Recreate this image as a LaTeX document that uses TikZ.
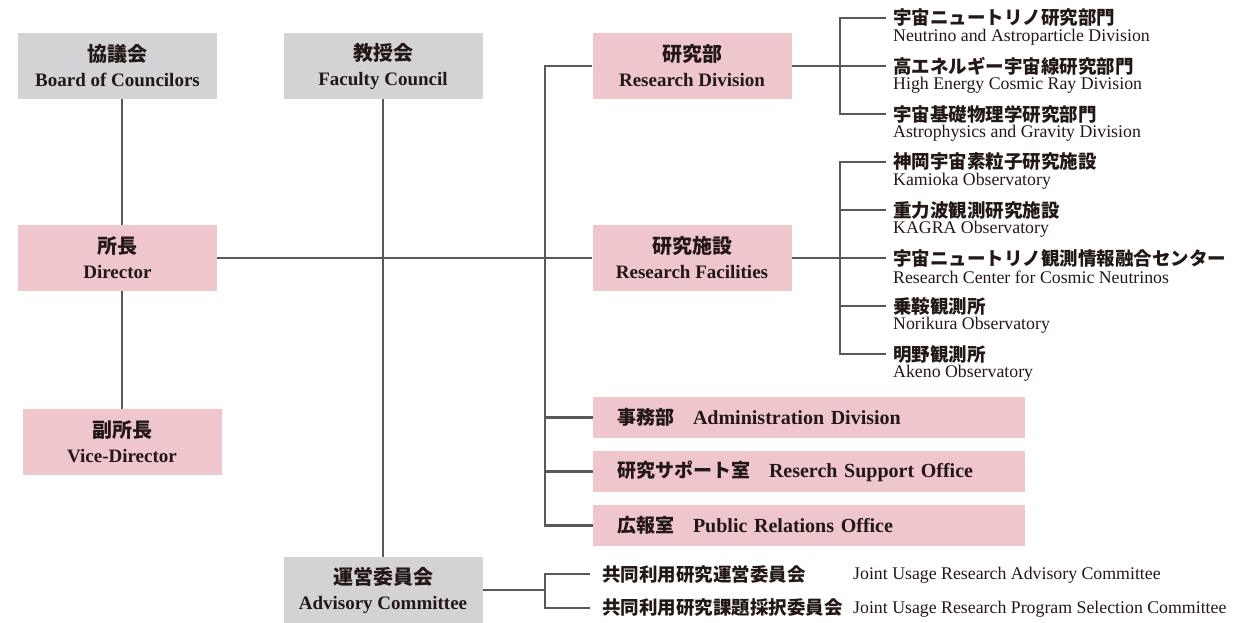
\documentclass[tikz,border=0pt]{standalone}
\usepackage{fontspec}
\setmainfont{Liberation Serif}
\newfontfamily\jp{Noto Sans CJK JP}
\newcommand{\jpbox}{\jp\fontsize{20}{25}\selectfont}
\newcommand{\jpwide}{\jp\fontsize{19}{24}\selectfont}
\usepackage{xcolor}
\usepackage{tikz}
\usetikzlibrary{positioning}
\definecolor{BoxGray}{HTML}{D3D3D5}
\definecolor{BoxPink}{HTML}{EEC6CB}
\definecolor{LineGray}{HTML}{5A5858}
\definecolor{Ink}{HTML}{231815}

\begin{document}
\begin{tikzpicture}[
    x=1pt, y=-1pt,
    text=Ink,
    box/.style={inner sep=0pt, align=center, minimum width=199pt, minimum height=66pt,
      font=\fontsize{19}{25}\selectfont\bfseries},
    gbox/.style={box, fill=BoxGray},
    pbox/.style={box, fill=BoxPink},
    wbox/.style={fill=BoxPink, inner xsep=24pt, inner ysep=0pt, text width=384pt, align=left,
      minimum height=41pt, font=\fontsize{20}{24}\selectfont\bfseries},
    jpsub/.style={anchor=west, inner xsep=7pt, inner ysep=0pt, font=\jp\fontsize{18.5}{22}\selectfont\bfseries},
    ensub/.style={anchor=west, inner xsep=7pt, inner ysep=0pt, font=\fontsize{17.8}{20}\selectfont},
    link/.style={line width=2.8pt, LineGray}
  ]
    \useasboundingbox (0,0) rectangle (1257,622);

    % boxes
    \node[gbox] (board) at (117.5,66) {{\jpbox 協議会}\\Board of Councilors};
    \node[gbox] (faculty) at (383,66) {{\jpbox 教授会}\\Faculty Council};
    \node[pbox] (director) at (117.5,258) {{\jpbox 所長}\\Director};
    \node[pbox] (vice) at (122,442) {{\jpbox 副所長}\\Vice-Director};
    \node[pbox] (resdiv) at (692,66) {{\jpbox 研究部}\\Research Division};
    \node[pbox] (resfac) at (692,258) {{\jpbox 研究施設}\\Research Facilities};
    \node[wbox] (admin) at (809,417.5) {{\jpwide 事務部}\hspace{19pt}Administration Division};
    \node[wbox] (support) at (809,471.5) {{\jpwide 研究サポート室}\hspace{19pt}Reserch Support Office};
    \node[wbox] (pr) at (809,525.5) {{\jpwide 広報室}\hspace{19pt}Public Relations Office};
    \node[gbox] (advisory) at (383,590) {{\jpbox 運営委員会}\\Advisory Committee};

    % research division units
    \node[jpsub] (nad) at (886,18) {宇宙ニュートリノ研究部門};
    \node[ensub] (nade) at (886,37) {Neutrino and Astroparticle Division};
    \node[jpsub] (hec) at (886,66) {高エネルギー宇宙線研究部門};
    \node[ensub] (hece) at (886,85) {High Energy Cosmic Ray Division};
    \node[jpsub] (agd) at (886,114) {宇宙基礎物理学研究部門};
    \node[ensub] (agde) at (886,133) {Astrophysics and Gravity Division};

    % research facilities units
    \node[jpsub] (kam) at (886,162) {神岡宇宙素粒子研究施設};
    \node[ensub] (kame) at (886,181) {Kamioka Observatory};
    \node[jpsub] (kag) at (886,210) {重力波観測研究施設};
    \node[ensub] (kage) at (886,229) {KAGRA Observatory};
    \node[jpsub] (rccn) at (886,258) {宇宙ニュートリノ観測情報融合センター};
    \node[ensub] (rccne) at (886,277) {Research Center for Cosmic Neutrinos};
    \node[jpsub] (nor) at (886,306) {乗鞍観測所};
    \node[ensub] (nore) at (886,325) {Norikura Observatory};
    \node[jpsub] (ake) at (886,354) {明野観測所};
    \node[ensub] (akee) at (886,373) {Akeno Observatory};

    % advisory committees
    \node[jpsub, inner xsep=12pt] (jura) at (590,574) {共同利用研究運営委員会};
    \node[ensub, inner xsep=0pt] (jurae) at (853,575) {Joint Usage Research Advisory Committee};
    \node[jpsub, inner xsep=12pt] (jurp) at (590,608) {共同利用研究課題採択委員会};
    \node[ensub, inner xsep=0pt] (jurpe) at (853,609) {Joint Usage Research Program Selection Committee};

    \coordinate (trunk) at (545,66);
    \coordinate (rdj) at (840,66);
    \coordinate (rfj) at (840,258);
    \coordinate (avj) at (545,590);

    % connectors
    \draw[link] (board.south -| vice.north) -- (director.north -| vice.north);
    \draw[link] (director.south -| vice.north) -- (vice.north);
    \draw[link] (faculty.south) -- (advisory.north);
    \draw[link] (director.east) -- (resfac.west);
    \draw[link] (resdiv.west) -- (trunk) -- (trunk |- pr.west) -- (pr.west);
    \draw[link] (trunk |- admin.west) -- (admin.west);
    \draw[link] (trunk |- support.west) -- (support.west);

    \draw[link] (resdiv.east) -- (resdiv.east -| hec.west);
    \draw[link] (nad.west) -- (nad.west -| rdj) -- (agd.west -| rdj) -- (agd.west);
    \draw[link] (resfac.east) -- (resfac.east -| rccn.west);
    \draw[link] (kam.west) -- (kam.west -| rfj) -- (ake.west -| rfj) -- (ake.west);
    \draw[link] (kag.west -| rfj) -- (kag.west);
    \draw[link] (nor.west -| rfj) -- (nor.west);

    \draw[link] (advisory.east |- avj) -- (avj);
    \draw[link] (jura.west) -- (jura.west -| avj) -- (jurp.west -| avj) -- (jurp.west);
  \end{tikzpicture}
\end{document}
